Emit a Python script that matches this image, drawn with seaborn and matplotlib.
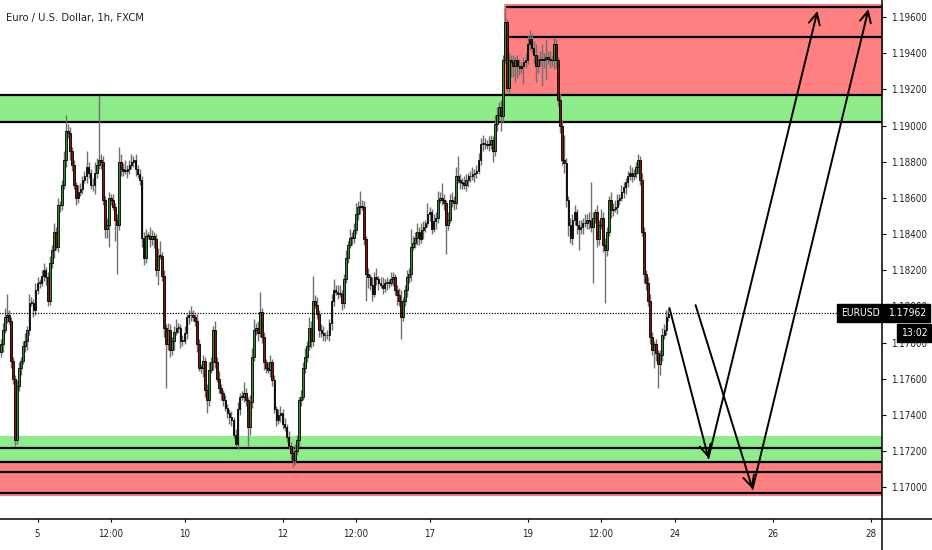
import numpy as np
import pandas as pd
import matplotlib
matplotlib.use('Agg')
import matplotlib.pyplot as plt
from matplotlib.lines import Line2D
import seaborn as sns

title = 'Euro / U.S. Dollar, 1h, FXCM'
symbol = 'EURUSD'
last_price = 1.17962
countdown = '13:02'

first_open = 1.1775
closes = [
    1.1779, 1.1787, 1.1794, 1.1795, 1.1792, 1.1770, 1.1760, 1.1726, 1.1756, 1.1766,
    1.1770, 1.1778, 1.1781, 1.1787, 1.1802, 1.1802, 1.1798, 1.1809, 1.1813, 1.1813,
    1.1817, 1.1820, 1.1816, 1.1803, 1.1824, 1.1831, 1.1841, 1.1833, 1.1856, 1.1856,
    1.1867, 1.1881, 1.1897, 1.1896, 1.1886, 1.1878, 1.1867, 1.1860, 1.1863, 1.1865,
    1.1870, 1.1872, 1.1877, 1.1874, 1.1867, 1.1867, 1.1874, 1.1878, 1.1881, 1.1880,
    1.1859, 1.1843, 1.1845, 1.1860, 1.1859, 1.1855, 1.1848, 1.1845, 1.1880, 1.1876,
    1.1875, 1.1875, 1.1876, 1.1878, 1.1880, 1.1881, 1.1876, 1.1873, 1.1870, 1.1838,
    1.1827, 1.1839, 1.1839, 1.1837, 1.1839, 1.1837, 1.1820, 1.1828, 1.1828, 1.1817,
    1.1788, 1.1779, 1.1787, 1.1776, 1.1781, 1.1786, 1.1788, 1.1788, 1.1781, 1.1781,
    1.1785, 1.1794, 1.1795, 1.1795, 1.1794, 1.1792, 1.1779, 1.1766, 1.1766, 1.1770,
    1.1754, 1.1748, 1.1765, 1.1769, 1.1787, 1.1769, 1.1760, 1.1755, 1.1752, 1.1748,
    1.1744, 1.1741, 1.1739, 1.1737, 1.1729, 1.1724, 1.1743, 1.1750, 1.1750, 1.1752,
    1.1748, 1.1733, 1.1747, 1.1772, 1.1787, 1.1788, 1.1785, 1.1797, 1.1783, 1.1769,
    1.1766, 1.1765, 1.1769, 1.1759, 1.1743, 1.1737, 1.1740, 1.1741, 1.1735, 1.1733,
    1.1728, 1.1723, 1.1719, 1.1715, 1.1720, 1.1726, 1.1748, 1.1750, 1.1766, 1.1772,
    1.1778, 1.1788, 1.1781, 1.1803, 1.1801, 1.1796, 1.1787, 1.1785, 1.1784, 1.1784,
    1.1784, 1.1791, 1.1803, 1.1809, 1.1808, 1.1807, 1.1807, 1.1802, 1.1815, 1.1827,
    1.1834, 1.1838, 1.1838, 1.1842, 1.1851, 1.1855, 1.1855, 1.1855, 1.1837, 1.1818,
    1.1816, 1.1812, 1.1807, 1.1816, 1.1815, 1.1813, 1.1812, 1.1810, 1.1813, 1.1813,
    1.1813, 1.1815, 1.1816, 1.1809, 1.1806, 1.1803, 1.1794, 1.1803, 1.1809, 1.1816,
    1.1818, 1.1833, 1.1835, 1.1838, 1.1841, 1.1837, 1.1842, 1.1844, 1.1846, 1.1851,
    1.1852, 1.1843, 1.1847, 1.1849, 1.1859, 1.1860, 1.1859, 1.1857, 1.1845, 1.1848,
    1.1859, 1.1858, 1.1857, 1.1872, 1.1870, 1.1869, 1.1868, 1.1867, 1.1870, 1.1872,
    1.1872, 1.1873, 1.1874, 1.1875, 1.1881, 1.1890, 1.1890, 1.1890, 1.1889, 1.1890,
    1.1892, 1.1886, 1.1901, 1.1906, 1.1910, 1.1905, 1.1936, 1.1957, 1.1921, 1.1936,
    1.1935, 1.1933, 1.1936, 1.1933, 1.1932, 1.1933, 1.1935, 1.1936, 1.1945, 1.1948,
    1.1943, 1.1939, 1.1933, 1.1936, 1.1937, 1.1936, 1.1937, 1.1938, 1.1937, 1.1936,
    1.1936, 1.1945, 1.1936, 1.1914, 1.1900, 1.1881, 1.1879, 1.1859, 1.1845, 1.1838,
    1.1848, 1.1852, 1.1845, 1.1843, 1.1844, 1.1846, 1.1846, 1.1848, 1.1847, 1.1844,
    1.1849, 1.1852, 1.1837, 1.1845, 1.1849, 1.1834, 1.1831, 1.1841, 1.1859, 1.1853,
    1.1854, 1.1855, 1.1859, 1.1860, 1.1863, 1.1866, 1.1869, 1.1872, 1.1874, 1.1872,
    1.1874, 1.1877, 1.1881, 1.1870, 1.1841, 1.1818, 1.1813, 1.1803, 1.1783, 1.1776,
    1.1779, 1.1774, 1.1768, 1.1773, 1.1784, 1.1787, 1.1794, 1.1796,
]

# wick lengths in pips (0.0001) above / below the candle body
up_wick = [
    3, 4, 5, 12, 3, 2, 2, 2, 3, 3,
    2, 3, 4, 2, 5, 3, 2, 4, 3, 2,
    3, 4, 2, 3, 4, 3, 5, 3, 4, 2,
    3, 5, 9, 4, 3, 2, 3, 2, 4, 3,
    2, 3, 9, 3, 2, 4, 6, 4, 36, 3,
    3, 2, 4, 3, 2, 3, 2, 3, 8, 4,
    3, 6, 2, 3, 4, 2, 3, 2, 3, 2,
    3, 4, 2, 5, 3, 2, 3, 4, 8, 2,
    3, 2, 4, 3, 2, 3, 5, 3, 2, 3,
    4, 2, 3, 5, 3, 2, 4, 3, 2, 3,
    2, 3, 4, 3, 2, 5, 3, 4, 2, 2,
    3, 2, 2, 3, 2, 3, 4, 2, 3, 6,
    3, 2, 4, 5, 6, 3, 4, 11, 2, 3,
    2, 3, 4, 2, 3, 2, 3, 4, 2, 3,
    2, 3, 2, 3, 4, 3, 2, 4, 3, 5,
    3, 6, 4, 14, 3, 4, 2, 3, 4, 2,
    3, 2, 4, 6, 3, 4, 5, 2, 3, 4,
    2, 5, 3, 4, 6, 3, 9, 4, 3, 2,
    3, 2, 4, 3, 5, 2, 3, 4, 2, 3,
    2, 4, 3, 2, 3, 4, 6, 2, 3, 4,
    3, 10, 4, 3, 5, 3, 4, 3, 2, 6,
    3, 2, 4, 3, 5, 3, 8, 3, 2, 4,
    3, 4, 3, 5, 11, 3, 2, 4, 3, 2,
    3, 4, 2, 3, 4, 3, 5, 3, 2, 4,
    3, 2, 5, 4, 3, 4, 3, 8, 2, 4,
    3, 4, 2, 3, 4, 2, 3, 4, 5, 5,
    3, 4, 6, 3, 4, 8, 3, 10, 3, 4,
    3, 4, 3, 2, 4, 3, 14, 3, 2, 4,
    3, 4, 2, 3, 4, 3, 5, 3, 4, 22,
    3, 2, 4, 3, 5, 3, 4, 3, 2, 4,
    3, 4, 3, 2, 4, 3, 2, 3, 4, 3,
    2, 3, 3, 2, 4, 3, 2, 3, 4, 3,
    2, 3, 2, 3, 4, 3, 4, 3,
]
low_wick = [
    3, 4, 2, 3, 2, 4, 3, 3, 2, 3,
    4, 2, 3, 5, 3, 2, 4, 3, 2, 3,
    2, 3, 4, 3, 2, 3, 4, 2, 3, 4,
    3, 2, 4, 3, 5, 3, 2, 4, 3, 2,
    3, 2, 4, 3, 2, 3, 5, 3, 2, 4,
    3, 5, 5, 12, 3, 2, 12, 27, 3, 4,
    3, 2, 4, 3, 2, 3, 4, 2, 3, 5,
    4, 3, 2, 4, 3, 5, 3, 8, 2, 3,
    5, 24, 3, 4, 3, 5, 2, 3, 4, 3,
    2, 3, 4, 3, 2, 3, 4, 2, 3, 5,
    4, 7, 3, 2, 4, 3, 2, 3, 4, 3,
    2, 3, 4, 3, 2, 2, 3, 3, 2, 3,
    3, 10, 4, 3, 2, 3, 4, 2, 3, 4,
    3, 2, 4, 3, 2, 3, 2, 4, 3, 2,
    3, 2, 4, 4, 3, 2, 4, 3, 2, 3,
    3, 2, 4, 3, 2, 3, 4, 2, 3, 3,
    2, 3, 4, 3, 2, 3, 2, 4, 3, 2,
    3, 2, 4, 3, 2, 3, 4, 2, 3, 15,
    6, 3, 4, 2, 3, 4, 2, 3, 2, 4,
    3, 2, 4, 3, 5, 3, 12, 2, 3, 4,
    3, 4, 2, 3, 4, 3, 2, 5, 3, 2,
    4, 3, 2, 4, 3, 2, 3, 4, 16, 3,
    2, 3, 4, 3, 2, 4, 3, 2, 3, 4,
    3, 2, 4, 3, 2, 3, 4, 3, 2, 3,
    3, 6, 3, 4, 3, 8, 3, 2, 2, 3,
    8, 6, 9, 7, 4, 3, 10, 3, 2, 3,
    3, 5, 9, 4, 3, 14, 4, 12, 3, 4,
    3, 5, 4, 3, 4, 3, 5, 4, 6, 3,
    4, 3, 5, 12, 3, 4, 2, 3, 4, 3,
    31, 3, 4, 3, 2, 4, 29, 3, 2, 4,
    3, 2, 4, 3, 2, 3, 4, 3, 2, 3,
    2, 3, 4, 3, 2, 5, 4, 3, 4, 3,
    10, 4, 13, 6, 3, 2, 3, 2,
]

price_ticks = [1.170, 1.172, 1.174, 1.176, 1.178, 1.180, 1.182, 1.184,
               1.186, 1.188, 1.190, 1.192, 1.194, 1.196]
time_ticks = [18, 54, 90, 138, 174, 210, 258, 294, 330, 378, 426]
time_labels = ['5', '12:00', '10', '12', '12:00', '17', '19', '12:00', '24', '26', '28']

# zones (price bounds) and their level lines
upper_supply = (1.19169, 1.19672)
upper_supply_start = 246.7
upper_supply_lines = [(1.19655, 247.7), (1.19489, 249.2)]
upper_demand = (1.19019, 1.19169)
lower_demand = (1.17138, 1.17282)
lower_demand_lines = [1.17216, 1.17138]
lower_supply = (1.16950, 1.17138)
lower_supply_lines = [1.17083, 1.16967]

# projected path (bar index, price)
path_a = [(327.5, 1.17991), (346.6, 1.17161), (400.0, 1.19633)]
path_b = [(340.3, 1.18007), (368.2, 1.16990), (425.0, 1.19644)]

n = min(len(closes), len(up_wick), len(low_wick))
df = pd.DataFrame({'close': closes[:n]})
df['open'] = [first_open] + closes[:n - 1]
df['top'] = df[['open', 'close']].max(axis=1)
df['bot'] = df[['open', 'close']].min(axis=1)
df['high'] = df['top'] + np.array(up_wick[:n]) * 1e-4
df['low'] = df['bot'] - np.array(low_wick[:n]) * 1e-4
df['bar'] = np.arange(n)
df['up'] = df['close'] >= df['open']

sns.set_theme(style='white')
plt.rcParams['font.family'] = ['DejaVu Sans']
plt.rcParams['font.stretch'] = 'condensed'

W, H = 932, 550
fig = plt.figure(figsize=(W / 100, H / 100), dpi=100)
ax = fig.add_axes([0, 31 / H, 882 / W, 519 / H])
ax.set_xlim(-0.37, 431.6)
ax.set_ylim(1.16824, 1.19694)

green = '#8eec8a'
red = '#ff8080'
ax.axhspan(*upper_demand, color=green, lw=0, zorder=0)
ax.axhspan(*lower_demand, color=green, lw=0, zorder=0)
ax.axhspan(*lower_supply, color=red, lw=0, zorder=0)
ax.fill_between([upper_supply_start, 440], upper_supply[0], upper_supply[1],
                color=red, lw=0, zorder=0)
for y in upper_demand + tuple(lower_demand_lines) + tuple(lower_supply_lines):
    ax.axhline(y, color='black', lw=1.6, zorder=1)
for y, x0 in upper_supply_lines:
    ax.plot([x0, 440], [y, y], color='black', lw=1.6, zorder=1)

# candles
ax.vlines(df['bar'], df['low'], df['high'], color='#707070', lw=1.0, zorder=2)
colors = np.where(df['up'], '#2f8f2f', '#8b1010')
heights = (df['top'] - df['bot']).clip(lower=0.00003)
ax.bar(df['bar'], heights, bottom=df['bot'], width=0.8, color=colors,
       edgecolor='black', linewidth=0.6, zorder=3)

# last price dotted line
ax.plot([-1, 410.5], [last_price, last_price], color='black', lw=0.9,
        ls=(0, (1, 1.2)), zorder=4)

# projected arrows
for path in (path_a, path_b):
    for (x0, y0), (x1, y1) in zip(path[:-1], path[1:]):
        ax.annotate('', xy=(x1, y1), xytext=(x0, y0),
                    arrowprops=dict(arrowstyle='->', color='black', lw=1.4,
                                    shrinkA=0, shrinkB=0, mutation_scale=20),
                    zorder=5)

for s in ax.spines.values():
    s.set_visible(False)
ax.yaxis.tick_right()
ax.set_yticks(price_ticks)
ax.set_yticklabels([f'{p:.5f}' for p in price_ticks])
ax.set_xticks(time_ticks)
ax.set_xticklabels(time_labels)
ax.tick_params(axis='y', which='major', right=True, left=False, length=3, width=0.8,
               color='black', pad=3.5, labelsize=7, labelcolor='#222222')
ax.tick_params(axis='x', which='major', bottom=True, length=2.5, width=0.8,
               color='black', pad=5, labelsize=7, labelcolor='#222222')
ax.grid(False)

fig.add_artist(Line2D([0, 1], [31 / H, 31 / H], color='black', lw=1.1))
fig.add_artist(Line2D([882 / W, 882 / W], [0, 1], color='black', lw=1.1))

fig.text(6 / W, 1 - 18 / H, title, fontsize=8, color='#222222', va='center', ha='left')

box = dict(boxstyle='square,pad=0.35', fc='black', ec='black')
fig.text(860 / W, 1 - 313 / H, symbol, fontsize=7.5, color='white',
         ha='center', va='center', bbox=box)
fig.text(907 / W, 1 - 313 / H, f'{last_price:.5f}', fontsize=7.5, color='white',
         ha='center', va='center', bbox=box)
fig.text(914 / W, 1 - 333 / H, countdown, fontsize=7.5, color='white',
         ha='center', va='center', bbox=box)

fig.savefig('out.png', dpi=100, facecolor='white')
